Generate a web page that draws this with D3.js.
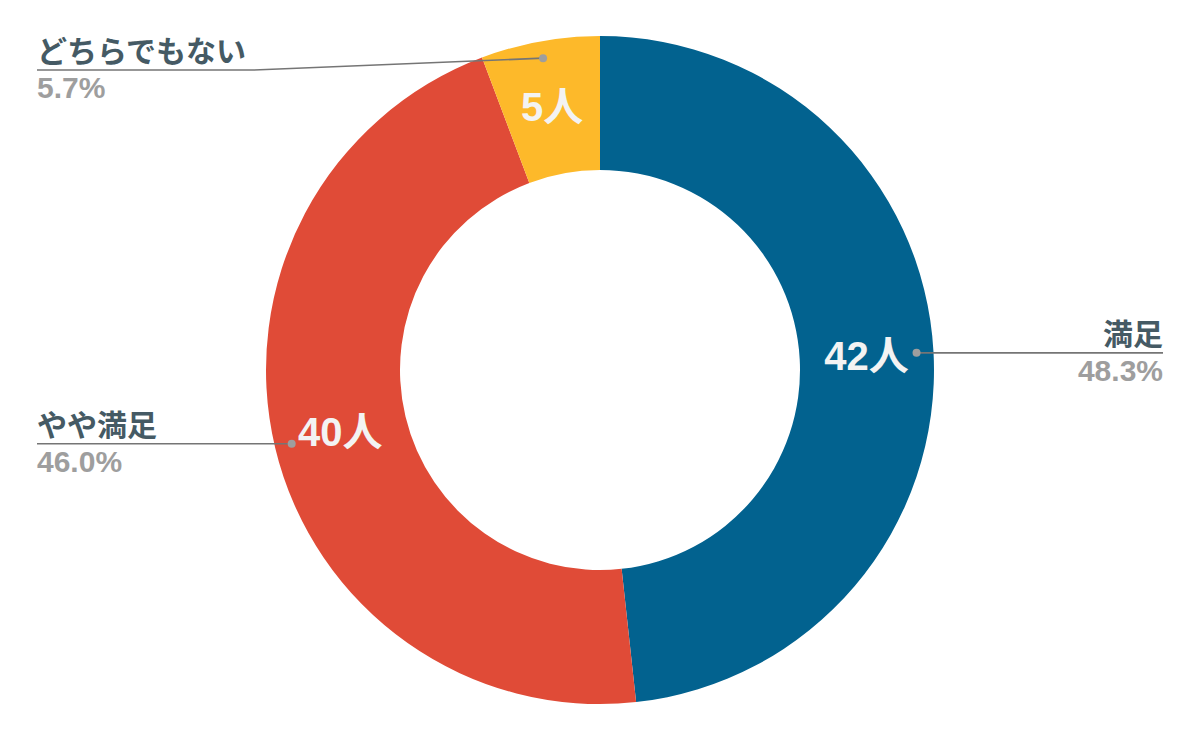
<!DOCTYPE html>
<html>
<head>
<meta charset="utf-8">
<script src="https://cdn.jsdelivr.net/npm/d3@7"></script>
<style>
  body { margin: 0; background: #fff; }
  text { font-family: "Liberation Sans", Arial, "Noto Sans CJK JP", sans-serif; font-weight: bold; }
</style>
</head>
<body>
<div id="chart"></div>
<script>
// data
var categories = ["満足", "やや満足", "どちらでもない"];
var counts = [42, 40, 5];
var percentLabels = ["48.3%", "46.0%", "5.7%"];
var colors = ["#02628f", "#e04b37", "#fdb92a"];

var svgWidth = 1200;
var svgHeight = 742;

var center = { x: 600, y: 370 };
var outerR = 334;
var innerR = 200;
var dotR = 317;

var svg = d3.select("#chart").append("svg")
  .attr("width", svgWidth)
  .attr("height", svgHeight);

var chartGroup = svg.append("g")
  .attr("transform", `translate(${center.x}, ${center.y})`);

var pieData = d3.pie()
  .sort(null)
  .value(d => d)(counts);

var arc = d3.arc()
  .innerRadius(innerR)
  .outerRadius(outerR);

var dotArc = d3.arc()
  .innerRadius(dotR)
  .outerRadius(dotR);

chartGroup.selectAll("path")
  .data(pieData)
  .enter()
  .append("path")
  .attr("d", arc)
  .attr("fill", (d, i) => colors[i]);

// value labels inside the ring
chartGroup.selectAll(".value")
  .data(pieData)
  .enter()
  .append("text")
  .attr("class", "value")
  .attr("x", d => arc.centroid(d)[0])
  .attr("y", d => arc.centroid(d)[1])
  .attr("dy", 14)
  .attr("text-anchor", "middle")
  .attr("font-size", "40px")
  .attr("fill", "#f3f3f3")
  .text(d => d.value + "人");

// leader lines + labels
var leftX = 37;
var rightX = 1163;
var minLineY = 70;
var elbowX = 254;

pieData.forEach(function(d, i) {
  var p = dotArc.centroid(d);
  var dotX = center.x + p[0];
  var dotY = center.y + p[1];
  var midAngle = (d.startAngle + d.endAngle) / 2;
  var onRight = midAngle < Math.PI;
  var lineY = Math.max(dotY, minLineY);

  var pts;
  if (onRight) {
    pts = [[dotX, dotY], [rightX, lineY]];
  } else if (Math.abs(lineY - dotY) > 1) {
    pts = [[leftX, lineY], [elbowX, lineY], [dotX, dotY]];
  } else {
    pts = [[leftX, lineY], [dotX, dotY]];
  }

  svg.append("path")
    .attr("d", d3.line()(pts))
    .attr("fill", "none")
    .attr("stroke", "#757575")
    .attr("stroke-width", 1.6);

  svg.append("circle")
    .attr("cx", dotX)
    .attr("cy", dotY)
    .attr("r", 4)
    .attr("fill", "#9e9e9e");

  var tx = onRight ? rightX : leftX;
  var anchor = onRight ? "end" : "start";

  svg.append("text")
    .attr("x", tx)
    .attr("y", lineY - 8)
    .attr("text-anchor", anchor)
    .attr("font-size", "30px")
    .attr("fill", "#455a64")
    .text(categories[i]);

  svg.append("text")
    .attr("x", tx)
    .attr("y", lineY + 28)
    .attr("text-anchor", anchor)
    .attr("font-size", "30px")
    .attr("fill", "#9e9e9e")
    .text(percentLabels[i]);
});
</script>
</body>
</html>
